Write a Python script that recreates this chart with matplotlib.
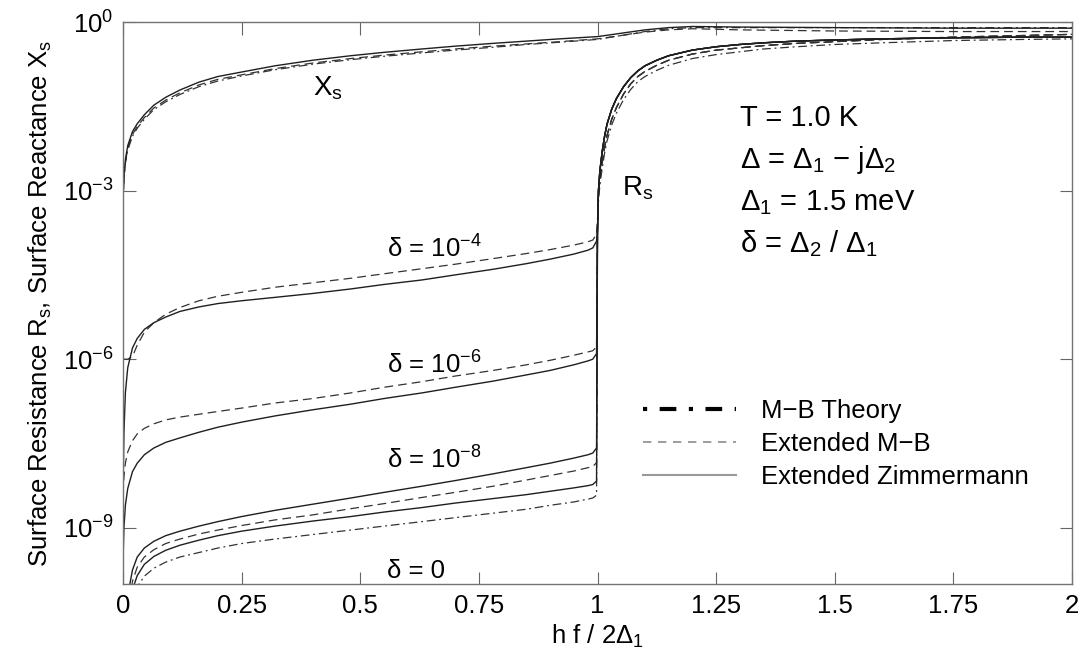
import numpy as np
import matplotlib
matplotlib.use('Agg')
import matplotlib.pyplot as plt
from matplotlib.lines import Line2D

plt.rcParams['font.family'] = ['Liberation Sans', 'DejaVu Sans']
plt.rcParams['mathtext.fontset'] = 'custom'
plt.rcParams['mathtext.rm'] = 'Liberation Sans'
plt.rcParams['mathtext.it'] = 'Liberation Sans'
plt.rcParams['mathtext.default'] = 'regular'

# values, as log10 of the surface impedance
# Rs below the gap (hf/2Delta1 < 1)
x_lo = [0, 0.002, 0.005, 0.01, 0.02, 0.03, 0.045, 0.065, 0.09, 0.12, 0.16, 0.2, 0.25, 0.32,
        0.4, 0.48, 0.55, 0.63, 0.7, 0.78, 0.85, 0.9, 0.95, 0.98, 0.99, 0.998]
rs_e4_zim = [-8.4, -7.3, -6.6, -6.15, -5.8, -5.63, -5.47, -5.35, -5.25, -5.15, -5.07, -5.01, -4.96, -4.9,
             -4.83, -4.75, -4.67, -4.59, -4.5, -4.4, -4.3, -4.22, -4.13, -4.06, -4.02, -3.9]
rs_e4_emb = [-6.0, -6.0, -6.0, -6.0, -5.95, -5.75, -5.52, -5.35, -5.2, -5.08, -4.96, -4.88, -4.81, -4.72,
             -4.64, -4.56, -4.48, -4.39, -4.31, -4.21, -4.12, -4.05, -3.97, -3.91, -3.88, -3.78]
rs_e6_zim = [-9.6, -9.0, -8.6, -8.3, -8.0, -7.85, -7.7, -7.58, -7.48, -7.4, -7.3, -7.21, -7.12, -7.01,
             -6.9, -6.8, -6.7, -6.6, -6.5, -6.39, -6.28, -6.2, -6.1, -6.03, -6.0, -5.9]
rs_e6_emb = [-8.4, -8.1, -7.85, -7.65, -7.45, -7.33, -7.23, -7.15, -7.08, -7.03, -6.98, -6.93, -6.87, -6.78,
             -6.7, -6.6, -6.5, -6.4, -6.3, -6.2, -6.1, -6.02, -5.93, -5.87, -5.85, -5.78]
rs_e8_zim = [-11, -11, -10.8, -10.2, -9.75, -9.52, -9.36, -9.24, -9.14, -9.06, -8.97, -8.89, -8.8, -8.69,
             -8.58, -8.47, -8.37, -8.26, -8.16, -8.04, -7.93, -7.85, -7.76, -7.7, -7.67, -7.58]
rs_e8_emb = [-11, -11, -11, -10.6, -9.95, -9.7, -9.52, -9.39, -9.28, -9.2, -9.11, -9.04, -8.96, -8.86,
             -8.77, -8.66, -8.57, -8.46, -8.37, -8.26, -8.15, -8.07, -7.99, -7.93, -7.91, -7.84]
rs_0_zim = [-11, -11, -11, -10.8, -10.1, -9.85, -9.65, -9.51, -9.4, -9.31, -9.22, -9.14, -9.06, -8.97,
            -8.88, -8.8, -8.72, -8.64, -8.56, -8.48, -8.41, -8.35, -8.29, -8.25, -8.23, -8.17]
rs_0_mb = [-11, -11, -11, -11, -10.3, -10.05, -9.86, -9.72, -9.61, -9.52, -9.44, -9.36, -9.28, -9.2,
           -9.12, -9.04, -8.97, -8.89, -8.82, -8.74, -8.67, -8.6, -8.54, -8.49, -8.47, -8.42]

# Rs above the gap, same for every delta
x_hi = [1.0, 1.002, 1.005, 1.01, 1.015, 1.02, 1.03, 1.04, 1.055, 1.07, 1.085, 1.1, 1.125, 1.15,
        1.2, 1.25, 1.3, 1.35, 1.42, 1.5, 1.6, 1.75, 1.9, 2.0]
rs_hi_zim = [-3.7, -3.0, -2.65, -2.3, -2.03, -1.82, -1.55, -1.36, -1.15, -0.99, -0.87, -0.78, -0.68, -0.6,
             -0.5, -0.44, -0.4, -0.37, -0.34, -0.32, -0.3, -0.28, -0.27, -0.27]
rs_hi_emb = [-3.6, -3.1, -2.8, -2.5, -2.23, -2.02, -1.73, -1.52, -1.28, -1.1, -0.97, -0.88, -0.77, -0.68,
             -0.57, -0.5, -0.46, -0.42, -0.38, -0.35, -0.31, -0.27, -0.24, -0.22]
rs_hi_mb = [-3.5, -3.2, -2.9, -2.6, -2.33, -2.12, -1.83, -1.62, -1.38, -1.2, -1.06, -0.97, -0.86, -0.77,
            -0.65, -0.58, -0.53, -0.48, -0.44, -0.4, -0.37, -0.33, -0.31, -0.3]

# Xs
x_xs = [0, 0.002, 0.005, 0.01, 0.02, 0.03, 0.045, 0.065, 0.09, 0.12, 0.16, 0.2, 0.25, 0.32, 0.4,
        0.48, 0.55, 0.63, 0.7, 0.78, 0.85, 0.92, 1.0, 1.05, 1.1, 1.15, 1.2, 1.3, 1.5, 1.75, 2.0]
xs_zim = [-3.2, -2.75, -2.45, -2.2, -1.95, -1.81, -1.65, -1.48, -1.34, -1.21, -1.07, -0.97, -0.89, -0.78, -0.68,
          -0.6, -0.54, -0.48, -0.43, -0.38, -0.34, -0.3, -0.26, -0.2, -0.14, -0.1, -0.08, -0.09, -0.1, -0.11, -0.11]
xs_emb = [-3.2, -2.78, -2.5, -2.25, -2.0, -1.86, -1.7, -1.53, -1.39, -1.26, -1.12, -1.02, -0.94, -0.83, -0.73,
          -0.65, -0.59, -0.53, -0.48, -0.43, -0.39, -0.35, -0.3, -0.24, -0.18, -0.14, -0.12, -0.14, -0.16, -0.17, -0.17]
xs_mb = [-3.2, -2.8, -2.52, -2.28, -2.03, -1.89, -1.73, -1.56, -1.42, -1.29, -1.15, -1.05, -0.96, -0.85, -0.75,
         -0.67, -0.61, -0.55, -0.5, -0.45, -0.4, -0.36, -0.31, -0.24, -0.17, -0.12, -0.1, -0.1, -0.1, -0.1, -0.1]

x_ticks = [0, 0.25, 0.5, 0.75, 1, 1.25, 1.5, 1.75, 2]
x_ticklabels = ['0', '0.25', '0.5', '0.75', '1', '1.25', '1.5', '1.75', '2']
y_ticks = [1e-9, 1e-6, 1e-3, 1e0]

fig = plt.figure(figsize=(10.88, 6.62), dpi=100)
ax = fig.add_axes([123 / 1088, 78 / 662, 949 / 1088, 562 / 662])

solid = dict(color='0.12', lw=1.0, linestyle='-')
dashed = dict(color='0.2', lw=0.9, linestyle=(0, (7, 4)))
dashdot = dict(color='0.2', lw=0.9, linestyle=(0, (7, 3, 1.5, 3)))


def draw(xs, logs, style):
    ax.plot(xs, 10.0 ** np.array(logs), **style)


for low, style, hi in [(rs_e4_emb, dashed, rs_hi_emb), (rs_e6_emb, dashed, rs_hi_emb),
                       (rs_e8_emb, dashed, rs_hi_emb), (rs_0_mb, dashdot, rs_hi_mb),
                       (rs_e4_zim, solid, rs_hi_zim), (rs_e6_zim, solid, rs_hi_zim),
                       (rs_e8_zim, solid, rs_hi_zim), (rs_0_zim, solid, rs_hi_zim)]:
    draw(x_lo + x_hi, low + hi, style)

draw(x_xs, xs_mb, dashdot)
draw(x_xs, xs_emb, dashed)
draw(x_xs, xs_zim, solid)

ax.set_yscale('log')
ax.set_xlim(0, 2)
ax.set_ylim(1e-10, 1e0)
ax.set_xticks(x_ticks)
ax.set_xticklabels(x_ticklabels)
ax.set_yticks(y_ticks)
ax.yaxis.set_minor_locator(matplotlib.ticker.NullLocator())
ax.tick_params(direction='in', length=9, width=0.8, color='0.4', labelsize=18.5,
               top=True, right=True, pad=7)
for sp in ax.spines.values():
    sp.set_color('0.45')
    sp.set_linewidth(1.0)

ax.set_xlabel('h f / 2Δ$_1$', fontsize=18.5, labelpad=4)
ax.set_ylabel('Surface Resistance R$_s$, Surface Reactance X$_s$', fontsize=18.5, labelpad=6)

# curve labels
ax.text(0.40, 10 ** -1.3, 'X$_s$', fontsize=20)
ax.text(1.052, 10 ** -3.08, 'R$_s$', fontsize=20)
ax.text(0.556, 10 ** -4.2, 'δ = 10$^{-4}$', fontsize=18.5)
ax.text(0.556, 10 ** -6.25, 'δ = 10$^{-6}$', fontsize=18.5)
ax.text(0.556, 10 ** -7.95, 'δ = 10$^{-8}$', fontsize=18.5)
ax.text(0.556, 10 ** -9.9, 'δ = 0', fontsize=18.5)

params = ['T = 1.0 K', 'Δ = Δ$_1$ − jΔ$_2$', 'Δ$_1$ = 1.5 meV', 'δ = Δ$_2$ / Δ$_1$']
for i, s in enumerate(params):
    ax.text(1.30, 10 ** (-1.85 - 0.75 * i), s, fontsize=21)

handles = [Line2D([], [], color='black', lw=3.0, linestyle=(0, (1, 3, 4, 3))),
           Line2D([], [], color='0.55', lw=1.2, linestyle=(0, (5, 4))),
           Line2D([], [], color='0.6', lw=1.5, linestyle='-')]
ax.legend(handles, ['M−B Theory', 'Extended M−B', 'Extended Zimmermann'],
          loc='upper left', bbox_to_anchor=(0.548, 0.33), frameon=False,
          fontsize=18.5, handlelength=3.6, handletextpad=1.0, labelspacing=0.35,
          borderpad=0, borderaxespad=0)

fig.savefig('out.png', dpi=100)
